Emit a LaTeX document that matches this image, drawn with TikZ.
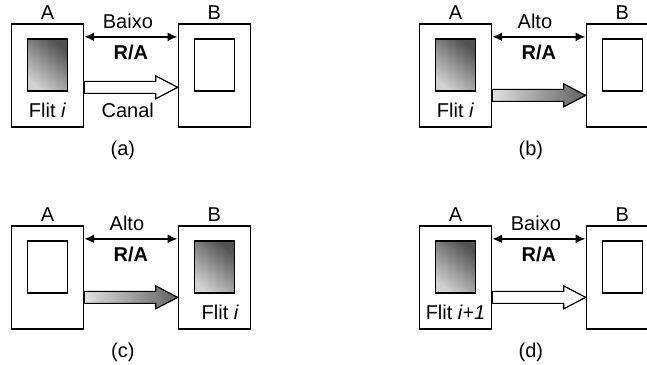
\documentclass[tikz,border=0pt]{standalone}
\usepackage{fontspec}
\setmainfont{Liberation Sans}
\usetikzlibrary{positioning,calc,arrows.meta}
% fat channel arrow: style, source node, tip coordinate
\newcommand{\canal}[3]{\path[#1] (#3) -- ++(-22,-11.5) -- ++(0,5.5) -- ($(#2.east |- #3)+(0,-6)$) -- ++(0,12) -- ($(#3)+(-22,6)$) -- ++(0,5.5) -- cycle;}
\tikzset{
  box/.style={draw,line width=1.3pt,minimum width=72pt,minimum height=103pt,inner sep=0pt},
  flit/.style={draw,line width=1.3pt,minimum width=40pt,minimum height=52pt,inner sep=0pt},
  cheio/.style={flit,top color=black!68,bottom color=black!18,shading angle=-40},
  rotulo/.style={above=3.5pt,inner sep=0pt},
  ra/.style={line width=2pt,{Latex[length=10pt,width=9pt]}-{Latex[length=10pt,width=9pt]}},
  vazio/.style={draw,fill=white,line width=1.2pt},
  cheia/.style={draw,line width=1.2pt,left color=black!12,right color=black!62}
}
\begin{document}
\begin{tikzpicture}[x=1pt,y=-1pt,font=\fontsize{20}{24}\selectfont]
\path[use as bounding box,clip] (0,0) rectangle (647,364);

% (a)
\begin{scope}
  \node[box] (A1) at (47.5,75.5) {};
  \node[box,right=93.5pt of A1] (B1) {};
  \node[cheio,below=15pt of A1.north] (fA1) {};
  \node[flit,below=15pt of B1.north] (fB1) {};
  \node[rotulo] (lA1) at (A1.north) {A};
  \node[rotulo] (lB1) at (B1.north) {B};
  \coordinate (t1) at ($(B1.north west)+(0,64)$);
  \canal{vazio}{A1}{t1}
  \draw[ra] ($(A1.north east)+(0,13.5)$) -- ($(B1.north west)+(0,13.5)$) coordinate[midway] (m1);
  \node[anchor=base] (s1) at ($(m1)+(-3,-8)$) {Baixo};
  \node[anchor=base] (r1) at ($(m1)+(0,22.5)$) {\textbf{R/A}};
  \node[anchor=base] (f1) at ($(A1.south)+(0,-10)$) {Flit \textit{i}};
  \node[anchor=base west] (c1) at ($(A1.south east)+(14,-10)$) {Canal};
  \node (p1) at ($(A1.south east)!0.5!(B1.south west)+(-8,23)$) {(a)};
\end{scope}

% (b)
\begin{scope}[shift={(408,0)}]
  \node[box] (A2) at (47.5,75.5) {};
  \node[box,right=93.5pt of A2] (B2) {};
  \node[cheio,below=15pt of A2.north] (fA2) {};
  \node[flit,below=15pt of B2.north] (fB2) {};
  \node[rotulo] (lA2) at (A2.north) {A};
  \node[rotulo] (lB2) at (B2.north) {B};
  \coordinate (t2) at ($(B2.north west)+(0,72)$);
  \canal{cheia}{A2}{t2}
  \draw[ra] ($(A2.north east)+(0,13.5)$) -- ($(B2.north west)+(0,13.5)$) coordinate[midway] (m2);
  \node[anchor=base] (s2) at ($(m2)+(-4,-8)$) {Alto};
  \node[anchor=base] (r2) at ($(m2)+(0,22.5)$) {\textbf{R/A}};
  \node[anchor=base] (f2) at ($(A2.south)+(0,-10)$) {Flit \textit{i}};
  \node (p2) at ($(A2.south east)!0.5!(B2.south west)+(-8,23)$) {(b)};
\end{scope}

% (c)
\begin{scope}[shift={(0,202)}]
  \node[box] (A3) at (47.5,75.5) {};
  \node[box,right=93.5pt of A3] (B3) {};
  \node[flit,below=15pt of A3.north] (fA3) {};
  \node[cheio,below=15pt of B3.north] (fB3) {};
  \node[rotulo] (lA3) at (A3.north) {A};
  \node[rotulo] (lB3) at (B3.north) {B};
  \coordinate (t3) at ($(B3.north west)+(0,72)$);
  \canal{cheia}{A3}{t3}
  \draw[ra] ($(A3.north east)+(0,13.5)$) -- ($(B3.north west)+(0,13.5)$) coordinate[midway] (m3);
  \node[anchor=base] (s3) at ($(m3)+(-4,-8)$) {Alto};
  \node[anchor=base] (r3) at ($(m3)+(0,22.5)$) {\textbf{R/A}};
  \node[anchor=base] (f3) at ($(B3.south)+(6,-10)$) {Flit \textit{i}};
  \node (p3) at ($(A3.south east)!0.5!(B3.south west)+(-8,23)$) {(c)};
\end{scope}

% (d)
\begin{scope}[shift={(408,202)}]
  \node[box] (A4) at (47.5,75.5) {};
  \node[box,right=93.5pt of A4] (B4) {};
  \node[cheio,below=15pt of A4.north] (fA4) {};
  \node[flit,below=15pt of B4.north] (fB4) {};
  \node[rotulo] (lA4) at (A4.north) {A};
  \node[rotulo] (lB4) at (B4.north) {B};
  \coordinate (t4) at ($(B4.north west)+(0,72)$);
  \canal{vazio}{A4}{t4}
  \draw[ra] ($(A4.north east)+(0,13.5)$) -- ($(B4.north west)+(0,13.5)$) coordinate[midway] (m4);
  \node[anchor=base] (s4) at ($(m4)+(-3,-8)$) {Baixo};
  \node[anchor=base] (r4) at ($(m4)+(0,22.5)$) {\textbf{R/A}};
  \node[anchor=base] (f4) at ($(A4.south)+(0,-10)$) {Flit \textit{i+1}};
  \node (p4) at ($(A4.south east)!0.5!(B4.south west)+(-8,23)$) {(d)};
\end{scope}
\end{tikzpicture}
\end{document}
